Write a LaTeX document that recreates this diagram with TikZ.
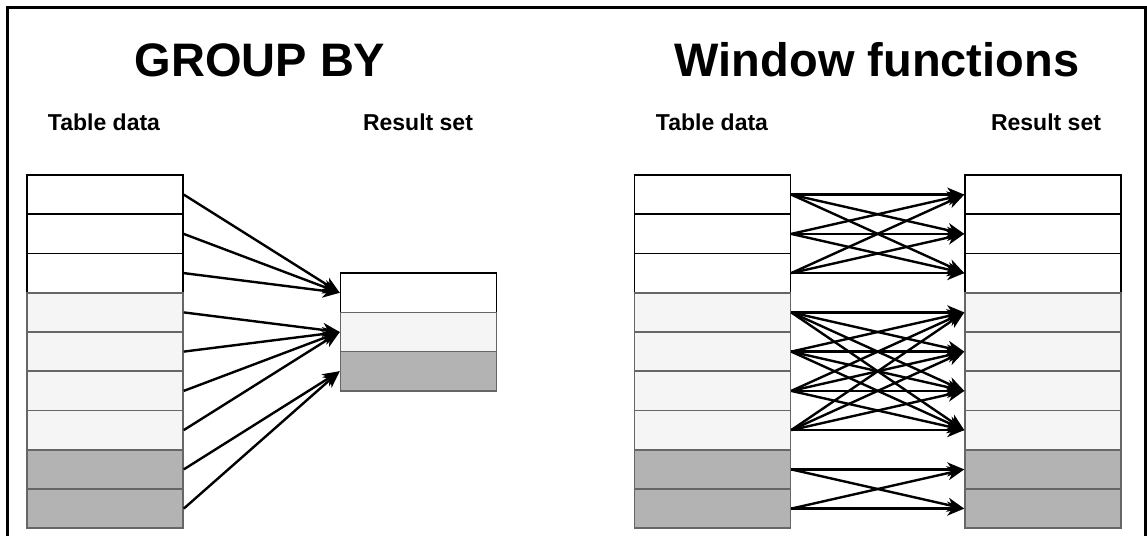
\documentclass[tikz,border=0pt]{standalone}
\usepackage{fontspec}
\setmainfont{Liberation Sans}
\usetikzlibrary{arrows.meta}
\definecolor{lightrow}{HTML}{F5F5F5}
\definecolor{darkrow}{HTML}{B3B3B3}
\definecolor{rowline}{HTML}{666666}

\begin{document}
\begin{tikzpicture}[x=1pt,y=-1pt,
   row/.style={line width=1.5pt,minimum width=156pt,minimum height=39.25pt,inner sep=0pt},
   plainrow/.style={row,fill=white,draw=black},
   lightrows/.style={row,fill=lightrow,draw=rowline},
   darkrows/.style={row,fill=darkrow,draw=rowline},
   title/.style={font=\bfseries\fontsize{47}{50}\selectfont},
   caption/.style={font=\bfseries\fontsize{23}{26}\selectfont},
   link/.style={line width=2.4pt,-{Stealth[length=17pt,width=14pt,inset=5pt]}}]
   \useasboundingbox (0,0) rectangle (1147,535);
   \draw[line width=3pt] (7,537) -- (7,7.5) -- (1145,7.5) -- (1145,537);

   \node[title] (tgb) at (260,60) {GROUP BY};
   \node[title] (twf) at (877,60) {Window functions};
   \node[caption] (cgl) at (104,122) {Table data};
   \node[caption] (cgr) at (418,122) {Result set};
   \node[caption] (cwl) at (712,122) {Table data};
   \node[caption] (cwr) at (1046,122) {Result set};

   % group by: table data
   \node[plainrow] (gl1) at (105,194.6) {};
   \node[plainrow] (gl2) at (105,233.9) {};
   \node[plainrow] (gl3) at (105,273.1) {};
   \node[lightrows] (gl4) at (105,312.4) {};
   \node[lightrows] (gl5) at (105,351.6) {};
   \node[lightrows] (gl6) at (105,390.9) {};
   \node[lightrows] (gl7) at (105,430.1) {};
   \node[darkrows] (gl8) at (105,469.4) {};
   \node[darkrows] (gl9) at (105,508.6) {};

   % group by: result set
   \node[plainrow] (gr1) at (418.5,292.8) {};
   \node[lightrows] (gr2) at (418.5,332) {};
   \node[darkrows] (gr3) at (418.5,371.2) {};

   % window functions: table data
   \node[plainrow] (wl1) at (712.5,194.6) {};
   \node[plainrow] (wl2) at (712.5,233.9) {};
   \node[plainrow] (wl3) at (712.5,273.1) {};
   \node[lightrows] (wl4) at (712.5,312.4) {};
   \node[lightrows] (wl5) at (712.5,351.6) {};
   \node[lightrows] (wl6) at (712.5,390.9) {};
   \node[lightrows] (wl7) at (712.5,430.1) {};
   \node[darkrows] (wl8) at (712.5,469.4) {};
   \node[darkrows] (wl9) at (712.5,508.6) {};

   % window functions: result set
   \node[plainrow] (wr1) at (1043,194.6) {};
   \node[plainrow] (wr2) at (1043,233.9) {};
   \node[plainrow] (wr3) at (1043,273.1) {};
   \node[lightrows] (wr4) at (1043,312.4) {};
   \node[lightrows] (wr5) at (1043,351.6) {};
   \node[lightrows] (wr6) at (1043,390.9) {};
   \node[lightrows] (wr7) at (1043,430.1) {};
   \node[darkrows] (wr8) at (1043,469.4) {};
   \node[darkrows] (wr9) at (1043,508.6) {};

   \path[link] (gl1.east) edge (gr1.west);
   \path[link] (gl2.east) edge (gr1.west);
   \path[link] (gl3.east) edge (gr1.west);
   \path[link] (gl4.east) edge (gr2.west);
   \path[link] (gl5.east) edge (gr2.west);
   \path[link] (gl6.east) edge (gr2.west);
   \path[link] (gl7.east) edge (gr2.west);
   \path[link] (gl8.east) edge (gr3.west);
   \path[link] (gl9.east) edge (gr3.west);

   \path[link] (wl1.east) edge (wr1.west) edge (wr2.west) edge (wr3.west);
   \path[link] (wl2.east) edge (wr1.west) edge (wr2.west) edge (wr3.west);
   \path[link] (wl3.east) edge (wr1.west) edge (wr2.west) edge (wr3.west);

   \path[link] (wl4.east) edge (wr4.west) edge (wr5.west) edge (wr6.west) edge (wr7.west);
   \path[link] (wl5.east) edge (wr4.west) edge (wr5.west) edge (wr6.west) edge (wr7.west);
   \path[link] (wl6.east) edge (wr4.west) edge (wr5.west) edge (wr6.west) edge (wr7.west);
   \path[link] (wl7.east) edge (wr4.west) edge (wr5.west) edge (wr6.west) edge (wr7.west);

   \path[link] (wl8.east) edge (wr8.west) edge (wr9.west);
   \path[link] (wl9.east) edge (wr8.west) edge (wr9.west);
\end{tikzpicture}
\end{document}
